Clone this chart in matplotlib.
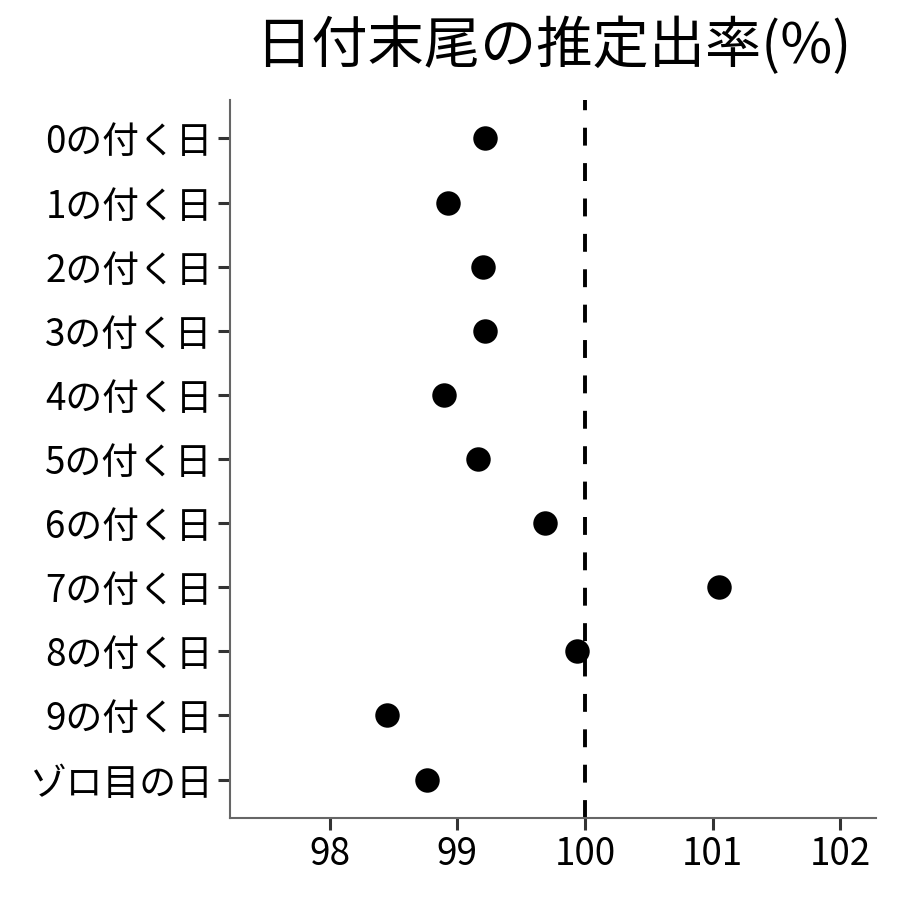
import matplotlib
matplotlib.use('Agg')
import matplotlib.pyplot as plt

plt.rcParams['font.family'] = ['Noto Sans CJK JP', 'DejaVu Sans']

# カテゴリと推定出率(%)
labels = ['0の付く日', '1の付く日', '2の付く日', '3の付く日', '4の付く日',
          '5の付く日', '6の付く日', '7の付く日', '8の付く日', '9の付く日', 'ゾロ目の日']
rates = [99.22, 98.93, 99.20, 99.22, 98.90, 99.16, 99.69, 101.05, 99.94, 98.45, 98.76]
xticks = [98, 99, 100, 101, 102]
ref_line = 100

fig = plt.figure(figsize=(9, 9), dpi=100)
ax = fig.add_axes([0.2556, 0.0911, 0.7177, 0.7978])

ypos = list(range(len(labels)))[::-1]

# 基準線（100%）
ax.axvline(ref_line, color='black', linewidth=2.8, linestyle=(0, (4.6, 4.5)), zorder=1)
ax.scatter(rates, ypos, s=310, color='black', zorder=3, linewidths=0)

ax.set_yticks(ypos)
ax.set_yticklabels(labels)
ax.set_xticks(xticks)
ax.set_xticklabels([str(t) for t in xticks])
ax.set_xlim(97.22, 102.28)
ax.set_ylim(-0.6, len(labels) - 1 + 0.6)

for s in ['top', 'right']:
    ax.spines[s].set_visible(False)
for s in ['left', 'bottom']:
    ax.spines[s].set_color('#666666')
    ax.spines[s].set_linewidth(1.5)

ax.tick_params(axis='both', length=8.5, width=2.2, color='#333333',
               labelsize=26.5, labelcolor='black', pad=4)

fig.text(0.615, 0.948, '日付末尾の推定出率(%)', ha='center', va='center', fontsize=40.5)

fig.savefig('out.png', dpi=100)
plt.close(fig)
